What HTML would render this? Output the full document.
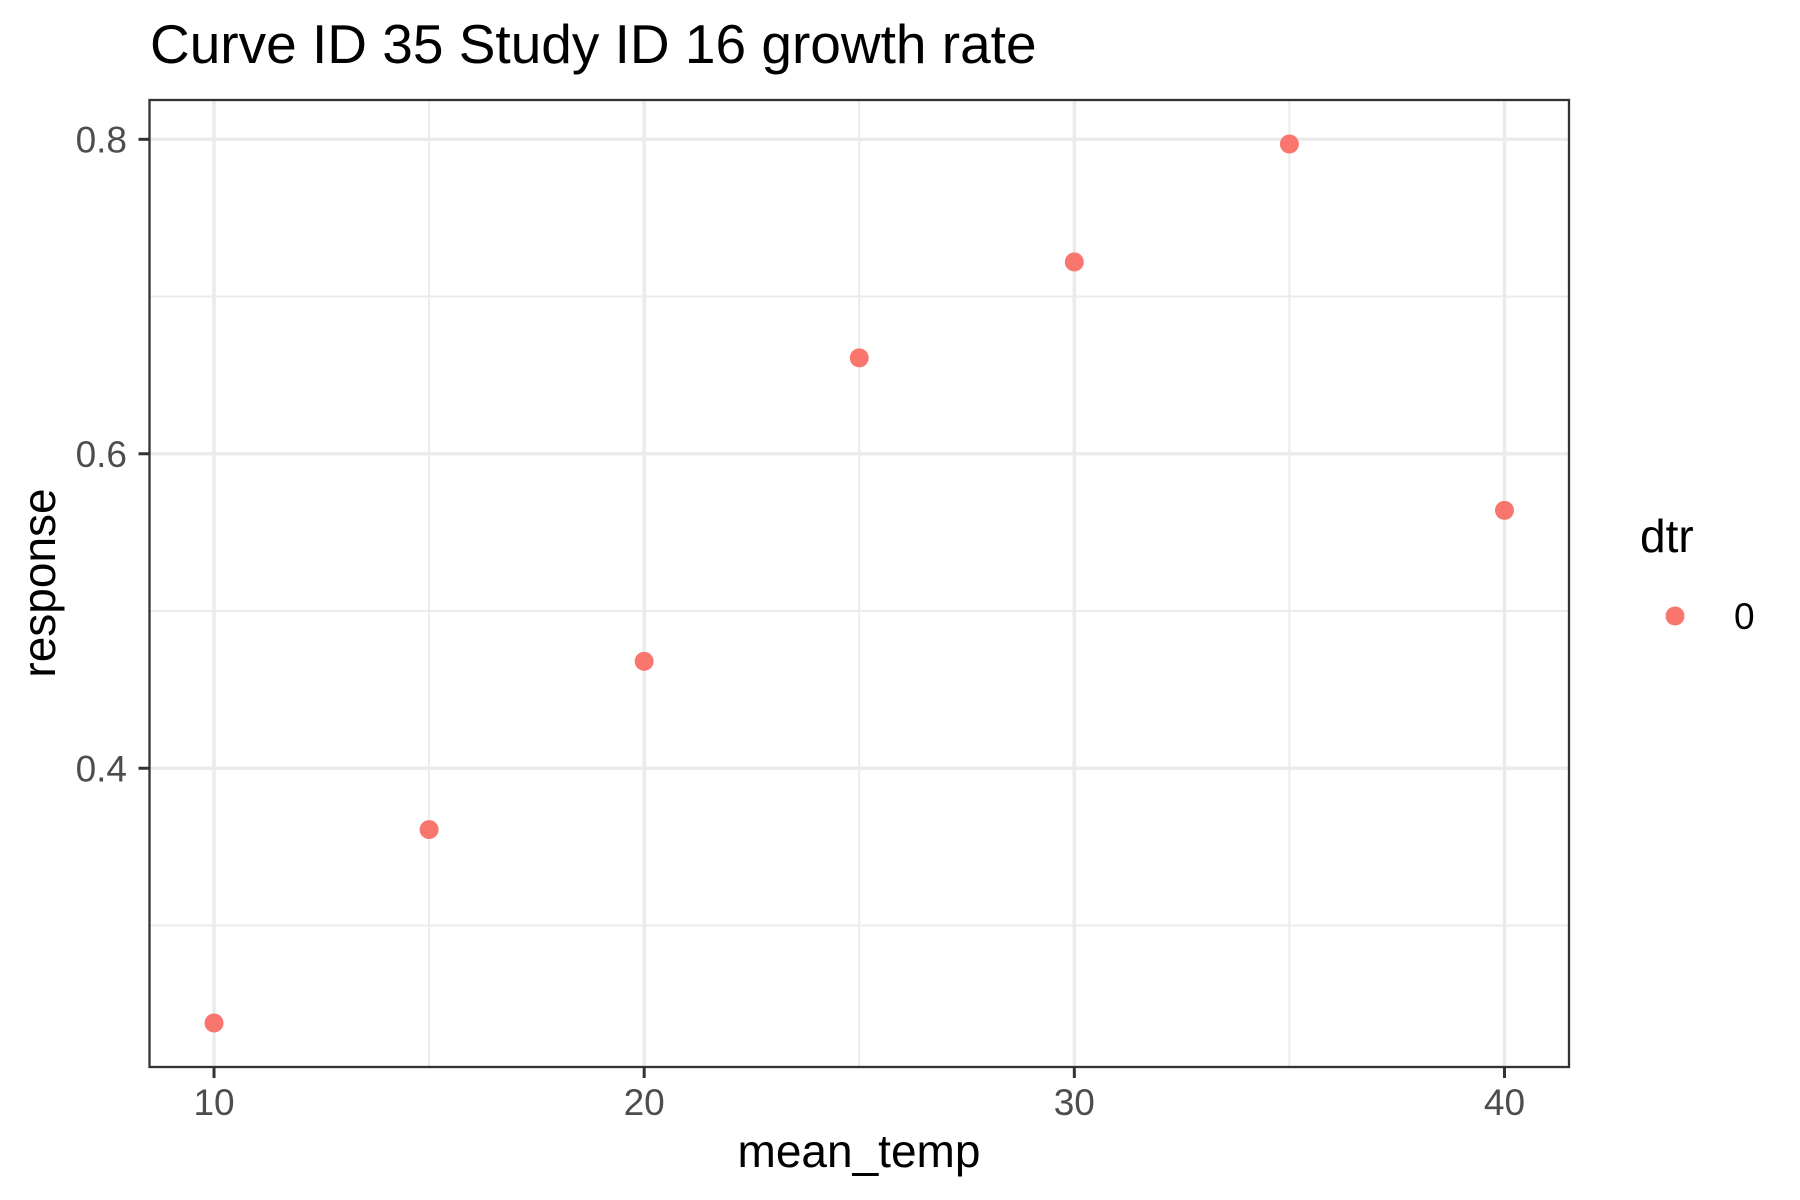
<!DOCTYPE html>
<html><head><meta charset="utf-8"><style>
html,body{margin:0;padding:0;background:#fff;}
svg{display:block;font-family:"Liberation Sans",Arial,sans-serif;}
</style></head><body>
<svg id="chart" width="1800" height="1200" viewBox="0 0 1800 1200">
<rect x="0" y="0" width="1800" height="1200" fill="#fff"/>
<text x="150" y="63" font-size="55" fill="#000">Curve ID 35 Study ID 16 growth rate</text>
<g id="grid"></g>
<g id="points"></g>
<rect x="149.5" y="100" width="1419.5" height="967" fill="none" stroke="#333" stroke-width="2.3"/>
<g id="axes"></g>
<text x="859" y="1167" font-size="46" text-anchor="middle" fill="#000">mean_temp</text>
<text transform="translate(55,583) rotate(-90)" font-size="46" text-anchor="middle" fill="#000">response</text>
<g>
<text x="1640" y="552" font-size="46" fill="#000">dtr</text>
<circle cx="1675" cy="616" r="9.5" fill="#F8766D"/>
<text x="1734" y="629" font-size="37" fill="#000">0</text>
</g>
</svg>
<script>
const xValues = [10, 15, 20, 25, 30, 35, 40];
const yValues = [0.238, 0.361, 0.468, 0.661, 0.722, 0.797, 0.564];
const xTicks = [10, 20, 30, 40];
const xMinor = [15, 25, 35];
const yTicks = [0.4, 0.6, 0.8];
const yMinor = [0.3, 0.5, 0.7];
const yTickLabels = ["0.4", "0.6", "0.8"];

const PL = 149.5, PR = 1569, PT = 100, PB = 1067;
const xMin = 8.5, xMax = 41.5, yMin = 0.21, yMax = 0.825;
function sx(v){ return PL + (v - xMin) / (xMax - xMin) * (PR - PL); }
function sy(v){ return PB - (v - yMin) / (yMax - yMin) * (PB - PT); }
const NS = "http://www.w3.org/2000/svg";
const grid = document.getElementById('grid');
const pts = document.getElementById('points');
const axes = document.getElementById('axes');
function line(parent, x1, y1, x2, y2, color, w){
  const l = document.createElementNS(NS, 'line');
  l.setAttribute('x1', x1); l.setAttribute('y1', y1);
  l.setAttribute('x2', x2); l.setAttribute('y2', y2);
  l.setAttribute('stroke', color); l.setAttribute('stroke-width', w);
  parent.appendChild(l);
  return l;
}
yMinor.forEach(v => {
  const l = line(grid, PL, sy(v), PR, sy(v), '#ebebeb', 2);
  
  
});
xMinor.forEach(v => {
  const l = line(grid, sx(v), PT, sx(v), PB, '#ebebeb', 2);
  
  
});
yTicks.forEach(v => {
  const l = line(grid, PL, sy(v), PR, sy(v), '#ebebeb', 3.5);
  
  
});
xTicks.forEach(v => {
  const l = line(grid, sx(v), PT, sx(v), PB, '#ebebeb', 3.5);
  
  
});
xValues.forEach((xv, i) => {
  const c = document.createElementNS(NS, 'circle');
  c.setAttribute('cx', sx(xv)); c.setAttribute('cy', sy(yValues[i]));
  c.setAttribute('r', 9.5); c.setAttribute('fill', '#F8766D');
  
  
  pts.appendChild(c);
});
xTicks.forEach(v => {
  const t = line(axes, sx(v), PB, sx(v), PB + 11, '#333', 3);
  
  
  const tx = document.createElementNS(NS, 'text');
  tx.setAttribute('x', sx(v)); tx.setAttribute('y', 1115);
  tx.setAttribute('font-size', 37); tx.setAttribute('fill', '#4d4d4d');
  tx.setAttribute('text-anchor', 'middle');
  tx.textContent = String(v);
  
  
  axes.appendChild(tx);
});
yTicks.forEach((v, i) => {
  const t = line(axes, PL - 11, sy(v), PL, sy(v), '#333', 3);
  
  
  const tx = document.createElementNS(NS, 'text');
  tx.setAttribute('x', 127); tx.setAttribute('y', sy(v) + 13);
  tx.setAttribute('font-size', 37); tx.setAttribute('fill', '#4d4d4d');
  tx.setAttribute('text-anchor', 'end');
  tx.textContent = yTickLabels[i];
  
  
  axes.appendChild(tx);
});
</script>
</body></html>
